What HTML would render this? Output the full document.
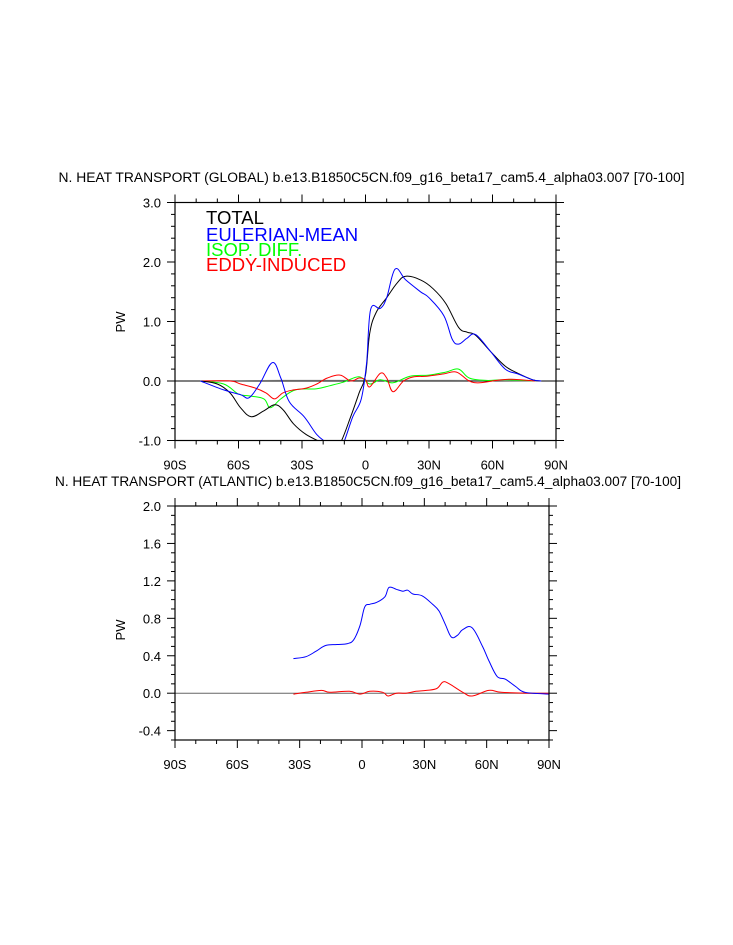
<!DOCTYPE html>
<html><head><meta charset="utf-8"><style>
html,body{margin:0;padding:0;background:#fff;}
svg{display:block;font-family:"Liberation Sans",Arial,sans-serif;}
</style></head><body>
<svg id="c" width="733" height="945" viewBox="0 0 733 945" xmlns="http://www.w3.org/2000/svg"></svg>
<script>
// ---- data (lat, PW) ----
const gTotalLat=[-78,-70,-64,-59,-54,-48,-43,-39,-34,-28,-20,-16,-12,-7,-3,0,2,5,10,15,19,26,32,38,44,48,52,59,66,72,79,83];
const gTotalVal=[0,-0.05,-0.2,-0.45,-0.6,-0.5,-0.4,-0.48,-0.72,-0.9,-1.05,-1.15,-1.05,-0.6,-0.2,0.1,0.8,1.15,1.4,1.65,1.76,1.7,1.55,1.3,0.9,0.82,0.77,0.5,0.25,0.13,0.02,0];
const gEulLat=[-78,-67,-59,-55,-50,-44,-40,-36,-29,-23,-18,-14,-10.5,-6,-2,0.5,2.4,7,10,14,19,26,30,37,41,44,48,52,59,66,72,79,83];
const gEulVal=[0,-0.15,-0.23,-0.28,-0.05,0.31,0.05,-0.35,-0.6,-0.9,-1.05,-1.2,-1.05,-0.6,-0.3,0.3,1.2,1.22,1.4,1.88,1.7,1.5,1.4,1.1,0.7,0.62,0.72,0.78,0.5,0.2,0.12,0.02,0];
const gIsoLat=[-78,-67,-60,-55,-48,-45,-40,-33,-23,-17,-10.5,-3,2,7,13,21,30,38,44,49,57,66,80];
const gIsoVal=[0,-0.05,-0.22,-0.25,-0.3,-0.45,-0.3,-0.15,-0.13,-0.08,-0.02,0.07,-0.05,0.02,-0.03,0.08,0.1,0.15,0.2,0.05,0.01,0.02,0];
const gEddyLat=[-78,-64,-59,-52,-47,-43,-39,-34,-28,-23,-18,-12,-7,-3,0,2,7,10,13,18,23,29,37,43,49,54,62,69,80];
const gEddyVal=[0,0,-0.05,-0.12,-0.2,-0.3,-0.2,-0.15,-0.12,-0.05,0.05,0.1,0,0.05,0.02,-0.1,0.13,0.05,-0.18,0,0.07,0.08,0.12,0.15,0,-0.03,0.01,0.03,0];
const gResLat=[-78,-40,0,40,83];
const gResVal=[0,0.01,0.01,0.01,0];
const aEulLat=[-33,-27,-22,-17.5,-12,-7,-4,-1,1.3,3.7,7,11,13,16.5,19.7,22,24.5,29,34,37,40,43,46,48.5,53,58,61,65,69,74,78.5,90];
const aEulVal=[0.37,0.39,0.45,0.51,0.52,0.53,0.57,0.72,0.92,0.95,0.97,1.03,1.13,1.11,1.09,1.1,1.06,1.04,0.95,0.88,0.74,0.6,0.62,0.68,0.7,0.5,0.35,0.18,0.15,0.07,0.01,-0.01];
const aEddyLat=[-33,-27,-19.5,-15.5,-6,-1,3.7,10,12.5,16.5,21,26,31,36,39,42,48.5,53,61,67,80,90];
const aEddyVal=[-0.01,0.01,0.03,0.01,0.02,-0.01,0.02,0.01,-0.03,0,0,0.02,0.03,0.05,0.12,0.1,0.01,-0.03,0.03,0.01,0,0];
const xTickLabels=["90S","60S","30S","0","30N","60N","90N"];
const xTickLats=[-90,-60,-30,0,30,60,90];
const topYTicks=[-1,0,1,2,3];
const botYTicks=[-0.4,0,0.4,0.8,1.2,1.6,2.0];

const NS="http://www.w3.org/2000/svg";
const svg=document.getElementById('c');
function mk(tag,attrs,parent){const e=document.createElementNS(NS,tag);for(const k in attrs)e.setAttribute(k,attrs[k]);(parent||svg).appendChild(e);return e;}

function smoothPath(pts){
  let d='M'+pts[0][0].toFixed(1)+','+pts[0][1].toFixed(1);
  for(let i=0;i<pts.length-1;i++){
    const p0=pts[Math.max(0,i-1)],p1=pts[i],p2=pts[i+1],p3=pts[Math.min(pts.length-1,i+2)];
    const t=0.18;
    const c1=[p1[0]+(p2[0]-p0[0])*t,p1[1]+(p2[1]-p0[1])*t];
    const c2=[p2[0]-(p3[0]-p1[0])*t,p2[1]-(p3[1]-p1[1])*t];
    d+='C'+c1[0].toFixed(1)+','+c1[1].toFixed(1)+' '+c2[0].toFixed(1)+','+c2[1].toFixed(1)+' '+p2[0].toFixed(1)+','+p2[1].toFixed(1);
  }
  return d;
}

function panel(P){
  const g=mk('g',{});
  
  
  const X=v=>P.x0+(v+90)/180*(P.x1-P.x0);
  const Y=v=>P.y1-(v-P.ymin)/(P.ymax-P.ymin)*(P.y1-P.y0);
  const cid='clip'+P.name;
  const cp=mk('clipPath',{id:cid},g);mk('rect',{x:P.x0,y:P.y0,width:P.x1-P.x0,height:P.y1-P.y0},cp);
  const t=mk('text',{x:(P.x0+P.x1)/2+6,y:P.ty,'text-anchor':'middle','font-size':13.5,fill:'#000',textLength:626,lengthAdjust:'spacingAndGlyphs'},g);
  t.textContent=P.title;
  
  
  const yl=mk('text',{x:0,y:0,transform:`translate(${P.x0-50},${P.yl}) rotate(-90)`,'text-anchor':'middle','font-size':13,fill:'#000'},g);
  yl.textContent='PW';
  
  
  mk('line',{x1:P.x0,x2:P.x1,y1:Y(0),y2:Y(0),stroke:P.zeroColor,'stroke-width':1},g);
  const sg=mk('g',{'clip-path':`url(#${cid})`},g);
  P.series.forEach(s=>{
    const pts=s.lat.map((la,i)=>[X(la),Y(s.val[i])]);
    const p=mk('path',{d:smoothPath(pts),fill:'none',stroke:s.color,'stroke-width':1},sg);
    
    
  });
  const fr=mk('rect',{x:P.x0,y:P.y0,width:P.x1-P.x0,height:P.y1-P.y0,fill:'none',stroke:'#000','stroke-width':1.2},g);
  
  
  for(let la=-90;la<=90;la+=10){
    const major=la%30===0, L=major?8:4, x=X(la);
    mk('line',{x1:x,x2:x,y1:P.y1,y2:P.y1+L,stroke:'#000','stroke-width':1},g);
    mk('line',{x1:x,x2:x,y1:P.y0,y2:P.y0-L,stroke:'#000','stroke-width':1},g);
  }
  xTickLabels.forEach((lb,i)=>{
    const tx=mk('text',{x:X(xTickLats[i]),y:P.y1+29,'text-anchor':'middle','font-size':13,fill:'#000'},g);
    tx.textContent=lb;
    
    
  });
  const nMin=Math.round((P.ymax-P.ymin)/P.minor);
  for(let i=0;i<=nMin;i++){
    const v=P.ymin+i*P.minor, y=Y(v);
    const major=P.yTicks.some(t=>Math.abs(t-v)<1e-6), L=major?8:4;
    mk('line',{x1:P.x0,x2:P.x0-L,y1:y,y2:y,stroke:'#000','stroke-width':1},g);
    mk('line',{x1:P.x1,x2:P.x1+L,y1:y,y2:y,stroke:'#000','stroke-width':1},g);
  }
  P.yTicks.forEach(v=>{
    const ty=mk('text',{x:P.x0-14,y:Y(v)+5,'text-anchor':'end','font-size':13,fill:'#000'},g);
    ty.textContent=v.toFixed(1);
    
    
  });
  return g;
}

panel({name:'global-panel',x0:175,x1:556,y0:202.5,y1:440.5,ymin:-1,ymax:3,minor:0.2,yTicks:topYTicks,
  title:'N. HEAT TRANSPORT (GLOBAL) b.e13.B1850C5CN.f09_g16_beta17_cam5.4_alpha03.007 [70-100]',ty:182,yl:322,zeroColor:'#000',
  series:[
    {name:'residual-line',lat:gResLat,val:gResVal,color:'#777'},
    {name:'isop-diff-line',lat:gIsoLat,val:gIsoVal,color:'#00ff00'},
    {name:'eddy-induced-line',lat:gEddyLat,val:gEddyVal,color:'#ff0000'},
    {name:'total-line',lat:gTotalLat,val:gTotalVal,color:'#000'},
    {name:'eulerian-mean-line',lat:gEulLat,val:gEulVal,color:'#0000ff'}]});

panel({name:'atlantic-panel',x0:175,x1:549,y0:506,y1:740,ymin:-0.5,ymax:2.0,minor:0.1,yTicks:botYTicks,
  title:'N. HEAT TRANSPORT (ATLANTIC) b.e13.B1850C5CN.f09_g16_beta17_cam5.4_alpha03.007 [70-100]',ty:486,yl:630,zeroColor:'#666',
  series:[
    {name:'atl-eddy-induced-line',lat:aEddyLat,val:aEddyVal,color:'#ff0000'},
    {name:'atl-eulerian-mean-line',lat:aEulLat,val:aEulVal,color:'#0000ff'}]});

const leg=[['TOTAL','#000',224],['EULERIAN-MEAN','#0000ff',241],['ISOP. DIFF.','#00ff00',256],['EDDY-INDUCED','#ff0000',271]];
leg.forEach(l=>{
  const t=mk('text',{x:206,y:l[2],'font-size':18.5,fill:l[1]});
  t.textContent=l[0];
  
  
});
</script>
</body></html>
